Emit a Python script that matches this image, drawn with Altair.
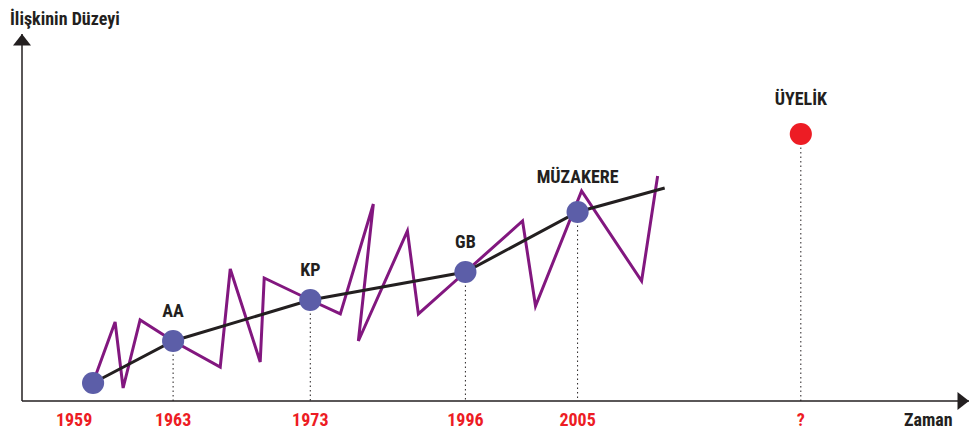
import altair as alt
import pandas as pd

# Milestones (time units, level units 0-100)
ms_names = ["", "AA", "KP", "GB", "MÜZAKERE"]
ms_years = ["1959", "1963", "1973", "1996", "2005"]
ms_x = [7.45, 15.84, 30.22, 46.48, 58.24]
ms_y = [4.9, 16.35, 27.52, 35.15, 51.5]

# Trend end
trend_end_x = 67.37
trend_end_y = 58.04

# Membership (future)
goal_name = "ÜYELİK"
goal_year = "?"
goal_x = 81.64
goal_y = 72.75

# Fluctuating real relationship (purple zigzag)
zz_x = [7.66, 9.76, 10.6, 12.38, 15.84, 20.78, 21.83, 24.97, 25.39, 30.22,
        33.37, 36.83, 35.26, 40.40, 41.55, 46.48, 52.47, 53.83, 58.66, 64.95, 66.63]
zz_y = [6.54, 21.53, 3.54, 22.07, 16.35, 9.26, 35.97, 10.63, 33.51, 27.52,
        23.71, 53.68, 16.35, 46.32, 23.71, 35.15, 49.05, 25.89, 57.22, 32.70, 61.31]

y_title = "İlişkinin Düzeyi"
x_title = "Zaman"
x_title_pos = 95.0

X_END = 99.27
Y_END = 100.0

FONT = "Roboto Condensed, Open Sans Condensed, sans-serif"
PURPLE = "#82177F"
BLUE = "#5C5EA8"
RED = "#ED1C24"
DARK = "#231F20"

xs = alt.Scale(domain=[0, X_END], nice=False, zero=False)
ys = alt.Scale(domain=[0, Y_END], nice=False, zero=False)

ms_df = pd.DataFrame({"name": ms_names, "year": ms_years, "x": ms_x, "y": ms_y, "y0": [0.0] * 5})
trend_df = pd.DataFrame({"x": ms_x + [trend_end_x], "y": ms_y + [trend_end_y],
                         "o": list(range(len(ms_x) + 1))})
zz_df = pd.DataFrame({"x": zz_x, "y": zz_y, "o": list(range(len(zz_x)))})
goal_df = pd.DataFrame({"name": [goal_name], "year": [goal_year], "x": [goal_x], "y": [goal_y], "y0": [0.0]})
drop_df = pd.DataFrame({"x": ms_x[1:] + [goal_x], "y": ms_y[1:] + [goal_y], "y0": [0.0] * 5})
axes_df = pd.DataFrame({"x": [0.0, 0.0], "x2": [X_END, 0.0], "y": [0.0, 0.0], "y2": [0.0, Y_END]})
up_df = pd.DataFrame({"x": [0.0], "y": [Y_END]})
right_df = pd.DataFrame({"x": [X_END], "y": [0.0]})
ytitle_df = pd.DataFrame({"x": [0.0], "y": [Y_END], "t": [y_title]})
xtitle_df = pd.DataFrame({"x": [x_title_pos], "y": [0.0], "t": [x_title]})


def X(f):
    return alt.X(f, type="quantitative", scale=xs, axis=None)


def Y(f):
    return alt.Y(f, type="quantitative", scale=ys, axis=None)


axes = alt.Chart(axes_df).mark_rule(color=DARK, strokeWidth=1.5).encode(
    x=X("x"), x2="x2", y=Y("y"), y2="y2")
up_arrow = alt.Chart(up_df).mark_point(
    shape="M0,0L0.9,1.15L-0.9,1.15Z", filled=True, size=400, color=DARK, opacity=1
).encode(x=X("x"), y=Y("y"))
right_arrow = alt.Chart(right_df).mark_point(
    shape="M0,0L-1.15,-0.9L-1.15,0.9Z", filled=True, size=400, color=DARK, opacity=1
).encode(x=X("x"), y=Y("y"))

drops = alt.Chart(drop_df).mark_rule(color=DARK, strokeWidth=1, strokeDash=[1.5, 3]).encode(
    x=X("x"), y=Y("y"), y2="y0")

zig = alt.Chart(zz_df).mark_line(color=PURPLE, strokeWidth=3, strokeJoin="miter").encode(
    x=X("x"), y=Y("y"), order="o:Q")
trend = alt.Chart(trend_df).mark_line(color=DARK, strokeWidth=3).encode(
    x=X("x"), y=Y("y"), order="o:Q")

dots = alt.Chart(ms_df).mark_circle(size=490, color=BLUE, opacity=1).encode(x=X("x"), y=Y("y"))
goal_dot = alt.Chart(goal_df).mark_circle(size=490, color=RED, opacity=1).encode(x=X("x"), y=Y("y"))

lbl_style = dict(font=FONT, fontSize=18, fontWeight="bold", color=DARK, baseline="alphabetic", align="center")
labels_a = alt.Chart(ms_df.iloc[1:4]).mark_text(dy=-24, **lbl_style).encode(
    x=X("x"), y=Y("y"), text="name:N")
labels_b = alt.Chart(pd.concat([ms_df.iloc[4:5], goal_df], ignore_index=True)).mark_text(
    dy=-29, **lbl_style).encode(x=X("x"), y=Y("y"), text="name:N")

yr_style = dict(font=FONT, fontSize=18, fontWeight="bold", color=RED, baseline="alphabetic", align="center")
years_main = alt.Chart(pd.concat([ms_df.iloc[1:], goal_df], ignore_index=True)).mark_text(
    dy=25, **yr_style).encode(x=X("x"), y=Y("y0"), text="year:N")
years_first = alt.Chart(ms_df.iloc[0:1]).mark_text(dx=-19, dy=25, **yr_style).encode(
    x=X("x"), y=Y("y0"), text="year:N")

ytitle = alt.Chart(ytitle_df).mark_text(
    font=FONT, fontSize=18, fontWeight="bold", color=DARK,
    align="left", baseline="alphabetic", dx=-12, dy=-9
).encode(x=X("x"), y=Y("y"), text="t:N")
xtitle = alt.Chart(xtitle_df).mark_text(
    font=FONT, fontSize=18, fontWeight="bold", color=DARK,
    align="center", baseline="alphabetic", dy=25
).encode(x=X("x"), y=Y("y"), text="t:N")

chart = alt.layer(
    drops, axes, up_arrow, right_arrow, zig, trend, dots, goal_dot,
    labels_a, labels_b, years_main, years_first, ytitle, xtitle
).properties(
    width=947, height=367,
    autosize=alt.AutoSizeParams(type="none"),
    padding={"left": 14, "top": 26, "right": 0, "bottom": 30},
).configure_view(stroke=None)

chart.save("out.html", embed_options={"renderer": "svg", "actions": False})
